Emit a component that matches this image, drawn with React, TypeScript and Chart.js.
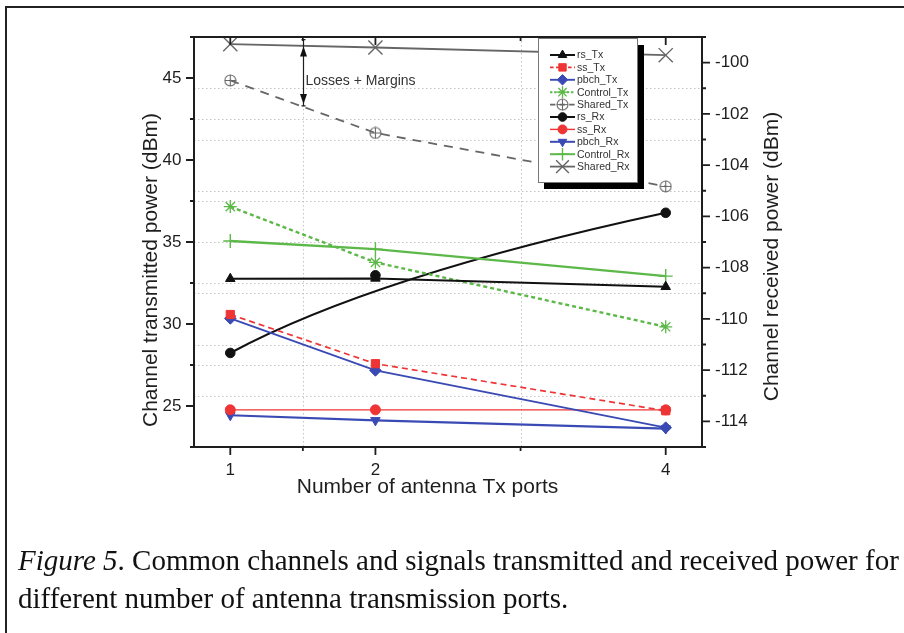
import React, { useEffect, useRef } from 'react';
import { Chart, registerables } from 'chart.js';
import { drawPoint } from 'chart.js/helpers';

Chart.register(...registerables);

const FONT = '"Liberation Sans", Arial, Helvetica, sans-serif';

// ---- data ----
const ports = [1, 2, 4];
const xTickValues = [1, 2, 4];
const xMinorValues = [1.5, 3];
const leftTickValues = [25, 30, 35, 40, 45];
const leftMinorValues = [22.5, 27.5, 32.5, 37.5, 42.5, 47.5];
const rightTickValues = [-114, -112, -110, -108, -106, -104, -102, -100];
const rightMinorValues = [-115, -113, -111, -109, -107, -105, -103, -101, -99];

const rsTx = [32.76, 32.78, 32.27];
const ssTx = [30.58, 27.58, 24.71];
const pbchTx = [30.34, 27.17, 23.68];
const controlTx = [37.16, 33.76, 29.83];
const sharedTx = [44.85, 41.65, 38.39];
const rsRx = [-111.33, -108.3, -105.86];
const ssRx = [-113.55, -113.55, -113.55];
const pbchRx = [-113.76, -113.96, -114.28];
const controlRx = [-106.96, -107.28, -108.33];
const sharedRx = [-99.28, -99.41, -99.71];

const leftTitle = 'Channel transmitted power (dBm)';
const rightTitle = 'Channel received power (dBm)';
const xTitle = 'Number of antenna Tx ports';
const annotationText = 'Losses + Margins';
const annotationX = 1.5;
const annotationTopRight = -99.1;
const annotationBottomLeft = 43.3;

const BLACK = '#111111';
const RED = '#ee3434';
const BLUE = '#3a4ab4';
const GREEN = '#5cb848';
const GRAY = '#666666';
const TEXT = '#1e1e1e';
const GRID = '#c4c4c4';

function makeCirclePlus(color: string, size: number) {
  const c = document.createElement('canvas');
  c.width = size;
  c.height = size;
  const g = c.getContext('2d')!;
  const m = size / 2;
  g.strokeStyle = color;
  g.lineWidth = 1.1;
  g.beginPath();
  g.arc(m, m, m - 1, 0, Math.PI * 2);
  g.stroke();
  g.beginPath();
  g.moveTo(m, 1);
  g.lineTo(m, size - 1);
  g.moveTo(1, m);
  g.lineTo(size - 1, m);
  g.stroke();
  return c;
}

const pts = (ys: number[]) => ports.map((x, i) => ({ x, y: ys[i] }));

const decor = {
  id: 'decor',
  beforeDatasetsDraw(chart: any) {
    const { ctx, chartArea: a, scales } = chart;
    const sx = scales.x, yl = scales.y, yr = scales.y1;
    ctx.save();
    ctx.strokeStyle = GRID;
    ctx.lineWidth = 1;
    ctx.setLineDash([1.5, 2.5]);
    ctx.beginPath();
    xMinorValues.forEach((v) => {
      const p = Math.round(sx.getPixelForValue(v)) + 0.5;
      ctx.moveTo(p, a.top);
      ctx.lineTo(p, a.bottom);
    });
    leftMinorValues.filter((v) => v > yl.min && v < yl.max).forEach((v) => {
      const p = Math.round(yl.getPixelForValue(v)) + 0.5;
      ctx.moveTo(a.left, p);
      ctx.lineTo(a.right, p);
    });
    rightMinorValues.filter((v) => v > yr.min && v < yr.max).forEach((v) => {
      const p = Math.round(yr.getPixelForValue(v)) + 0.5;
      ctx.moveTo(a.left, p);
      ctx.lineTo(a.right, p);
    });
    ctx.stroke();
    ctx.restore();

    // B-spline connection lines
    chart.data.datasets.forEach((ds: any, i: number) => {
      if (!ds.bspline) return;
      const meta = chart.getDatasetMeta(i);
      const p = meta.data.map((e: any) => ({ x: e.x, y: e.y }));
      if (p.length < 2) return;
      ctx.save();
      ctx.beginPath();
      ctx.rect(a.left, a.top, a.width, a.height);
      ctx.clip();
      ctx.strokeStyle = ds.borderColor;
      ctx.lineWidth = ds.borderWidth;
      ctx.setLineDash(ds.borderDash || []);
      ctx.beginPath();
      ctx.moveTo(p[0].x, p[0].y);
      if (p.length === 2) {
        ctx.lineTo(p[1].x, p[1].y);
      } else {
        for (let k = 1; k < p.length - 2; k++) {
          const mx = (p[k].x + p[k + 1].x) / 2;
          const my = (p[k].y + p[k + 1].y) / 2;
          ctx.quadraticCurveTo(p[k].x, p[k].y, mx, my);
        }
        const n = p.length;
        ctx.quadraticCurveTo(p[n - 2].x, p[n - 2].y, p[n - 1].x, p[n - 1].y);
      }
      ctx.stroke();
      ctx.restore();
    });
  },
  afterDatasetsDraw(chart: any) {
    const { ctx, chartArea: a, scales } = chart;
    const sx = scales.x, yl = scales.y, yr = scales.y1;
    ctx.save();
    ctx.strokeStyle = TEXT;
    ctx.lineWidth = 2;
    ctx.setLineDash([]);
    ctx.strokeRect(a.left, a.top, a.width, a.height);
    ctx.lineWidth = 1.8;
    ctx.beginPath();
    const hTick = (v: number, scale: any, x0: number, len: number) => {
      const p = scale.getPixelForValue(v);
      ctx.moveTo(x0, p);
      ctx.lineTo(x0 + len, p);
    };
    const vTick = (v: number, y0: number, len: number) => {
      const p = sx.getPixelForValue(v);
      ctx.moveTo(p, y0);
      ctx.lineTo(p, y0 + len);
    };
    leftTickValues.forEach((v) => hTick(v, yl, a.left, -8));
    leftMinorValues.forEach((v) => hTick(v, yl, a.left, -4));
    rightTickValues.forEach((v) => hTick(v, yr, a.right, 8));
    rightMinorValues.forEach((v) => hTick(v, yr, a.right, 4));
    xTickValues.forEach((v) => { vTick(v, a.bottom, 8); vTick(v, a.top, 8); });
    xMinorValues.forEach((v) => { vTick(v, a.bottom, 4); vTick(v, a.top, 4); });
    ctx.stroke();

    // axis titles
    ctx.fillStyle = TEXT;
    ctx.font = `21px ${FONT}`;
    ctx.textAlign = 'center';
    ctx.textBaseline = 'alphabetic';
    ctx.save();
    ctx.translate(a.left - 37.5, a.top + 233);
    ctx.rotate(-Math.PI / 2);
    ctx.fillText(leftTitle, 0, 0);
    ctx.restore();
    ctx.save();
    ctx.translate(a.right + 76, a.top + 219.5);
    ctx.rotate(-Math.PI / 2);
    ctx.fillText(rightTitle, 0, 0);
    ctx.restore();
    ctx.fillText(xTitle, (a.left + a.right) / 2 - 20.5, a.bottom + 46);

    // annotation
    const ax = Math.round(sx.getPixelForValue(annotationX)) + 0.5;
    const aTop = yr.getPixelForValue(annotationTopRight);
    const aBot = yl.getPixelForValue(annotationBottomLeft);
    ctx.strokeStyle = TEXT;
    ctx.lineWidth = 1.2;
    ctx.beginPath();
    ctx.moveTo(ax, aTop);
    ctx.lineTo(ax, aBot);
    ctx.moveTo(ax - 2, aTop);
    ctx.lineTo(ax + 2, aTop);
    ctx.moveTo(ax - 2, aBot);
    ctx.lineTo(ax + 2, aBot);
    ctx.stroke();
    ctx.fillStyle = BLACK;
    ctx.beginPath();
    ctx.moveTo(ax, aTop + 7);
    ctx.lineTo(ax - 3.5, aTop + 17);
    ctx.lineTo(ax + 3.5, aTop + 17);
    ctx.closePath();
    ctx.fill();
    ctx.beginPath();
    ctx.moveTo(ax, aBot - 2);
    ctx.lineTo(ax - 3.5, aBot - 12);
    ctx.lineTo(ax + 3.5, aBot - 12);
    ctx.closePath();
    ctx.fill();
    ctx.fillStyle = '#333';
    ctx.font = `14px ${FONT}`;
    ctx.textAlign = 'left';
    ctx.fillText(annotationText, ax + 2, a.top + 48);

    // legend
    const lx = a.left + 344, ly = a.top + 1, lw = 99, lh = 144;
    ctx.fillStyle = '#000';
    ctx.fillRect(lx + 6, ly + 7, lw + 1, lh);
    ctx.fillStyle = '#fff';
    ctx.fillRect(lx, ly, lw, lh);
    ctx.strokeStyle = '#777';
    ctx.lineWidth = 1;
    ctx.strokeRect(lx + 0.5, ly + 0.5, lw, lh);
    ctx.font = `10.5px ${FONT}`;
    ctx.textBaseline = 'middle';
    chart.data.datasets.forEach((ds: any, i: number) => {
      const y = ly + 17 + i * 12.4;
      ctx.save();
      ctx.strokeStyle = ds.borderColor;
      ctx.lineWidth = Math.min(ds.borderWidth, 2);
      ctx.setLineDash(ds.borderDash ? ds.borderDash.map((d: number) => d * 0.6) : []);
      ctx.beginPath();
      ctx.moveTo(lx + 12, y);
      ctx.lineTo(lx + 37, y);
      ctx.stroke();
      ctx.setLineDash([]);
      ctx.fillStyle = ds.pointBackgroundColor;
      ctx.strokeStyle = ds.pointBorderColor;
      ctx.lineWidth = ds.pointBorderWidth;
      drawPoint(ctx, {
        pointStyle: ds.pointStyle,
        radius: ds.pointRadius * 0.9,
        rotation: ds.pointRotation || 0,
        borderWidth: ds.pointBorderWidth,
      } as any, lx + 24.5, y);
      ctx.restore();
      ctx.fillStyle = '#333';
      ctx.fillText(ds.label, lx + 39, y + 0.5);
    });
    ctx.restore();
  },
};

export default function App() {
  const ref = useRef<HTMLCanvasElement | null>(null);
  useEffect(() => {
    if (!ref.current) return;
    const circlePlus = makeCirclePlus(GRAY, 13);
    const mk = (label: string, ys: number[], axis: string, color: string, extra: any) => ({
      label,
      data: pts(ys),
      yAxisID: axis,
      borderColor: color,
      backgroundColor: color,
      pointBackgroundColor: color,
      pointBorderColor: color,
      pointBorderWidth: 1,
      borderWidth: 1.8,
      tension: 0,
      ...extra,
    });
    const datasets = [
      mk('rs_Tx', rsTx, 'y', BLACK, { pointStyle: 'triangle', pointRadius: 5.5, borderWidth: 2 }),
      mk('ss_Tx', ssTx, 'y', RED, { pointStyle: 'rect', pointRadius: 5.8, borderWidth: 1.7, borderDash: [6, 4] }),
      mk('pbch_Tx', pbchTx, 'y', BLUE, { pointStyle: 'rectRot', pointRadius: 5.8, borderWidth: 1.9 }),
      mk('Control_Tx', controlTx, 'y', GREEN, { pointStyle: 'star', pointRadius: 6.5, pointBorderWidth: 1.3, borderWidth: 2.4, borderDash: [4, 3] }),
      mk('Shared_Tx', sharedTx, 'y', GRAY, { pointStyle: circlePlus, pointRadius: 6, borderWidth: 1.8, borderDash: [9, 7] }),
      mk('rs_Rx', rsRx, 'y1', BLACK, { pointStyle: 'circle', pointRadius: 4.8, borderWidth: 2.2, showLine: false, bspline: true }),
      mk('ss_Rx', ssRx, 'y1', RED, { pointStyle: 'circle', pointRadius: 5, borderWidth: 1.4 }),
      mk('pbch_Rx', pbchRx, 'y1', BLUE, { pointStyle: 'triangle', pointRadius: 5.5, pointRotation: 180, borderWidth: 2.2 }),
      mk('Control_Rx', controlRx, 'y1', GREEN, { pointStyle: 'cross', pointRadius: 7, pointBorderWidth: 1.4, borderWidth: 2.4 }),
      mk('Shared_Rx', sharedRx, 'y1', GRAY, { pointStyle: 'crossRot', pointRadius: 10, pointBorderWidth: 1.4, borderWidth: 1.8 }),
    ];
    const tickFont = { family: FONT, size: 17 };
    const chart = new Chart(ref.current, {
      type: 'line',
      data: { datasets } as any,
      options: {
        responsive: false,
        animation: false,
        events: [],
        layout: { padding: { left: 0, right: 0, top: 37, bottom: 0 } },
        plugins: { legend: { display: false }, tooltip: { enabled: false } },
        scales: {
          x: {
            type: 'linear',
            position: 'bottom',
            min: 0.75,
            max: 4.25,
            grid: { display: false, drawTicks: false },
            border: { display: false },
            ticks: { font: tickFont, color: TEXT, padding: 13, maxRotation: 0 },
            afterBuildTicks: (s: any) => { s.ticks = xTickValues.map((v) => ({ value: v })); },
            afterFit: (s: any) => { s.height = 186; },
          },
          y: {
            type: 'linear',
            position: 'left',
            min: 22.5,
            max: 47.5,
            grid: { display: false, drawTicks: false },
            border: { display: false },
            ticks: { font: tickFont, color: TEXT, padding: 12.5 },
            afterBuildTicks: (s: any) => { s.ticks = leftTickValues.map((v) => ({ value: v })); },
            afterFit: (s: any) => { s.width = 194; },
          },
          y1: {
            type: 'linear',
            position: 'right',
            min: -115,
            max: -99,
            grid: { display: false, drawTicks: false },
            border: { display: false },
            ticks: { font: tickFont, color: TEXT, padding: 13 },
            afterBuildTicks: (s: any) => { s.ticks = rightTickValues.map((v) => ({ value: v })); },
            afterFit: (s: any) => { s.width = 202; },
          },
        },
      } as any,
      plugins: [decor as any],
    });
    return () => chart.destroy();
  }, []);

  const serif = '"Liberation Serif", "Times New Roman", Times, serif';
  return (
    <div style={{ position: 'fixed', left: 0, top: 0, width: 904, height: 633, overflow: 'hidden', background: '#fff' }}>
      <div style={{ position: 'absolute', left: 5, top: 6, width: 1200, height: 1200, borderLeft: '2px solid #222', borderTop: '2px solid #222' }} />
      <canvas ref={ref} width={904} height={633} style={{ position: 'absolute', left: 0, top: 0, width: 904, height: 633 }} />
      <div style={{ position: 'absolute', left: 18, top: 546, font: `29px ${serif}`, lineHeight: '29px', whiteSpace: 'nowrap', color: '#111' }}>
        <i>Figure 5</i>. Common channels and signals transmitted and received power for
      </div>
      <div style={{ position: 'absolute', left: 18, top: 584, font: `29px ${serif}`, lineHeight: '29px', whiteSpace: 'nowrap', color: '#111' }}>
        different number of antenna transmission ports.
      </div>
    </div>
  );
}
